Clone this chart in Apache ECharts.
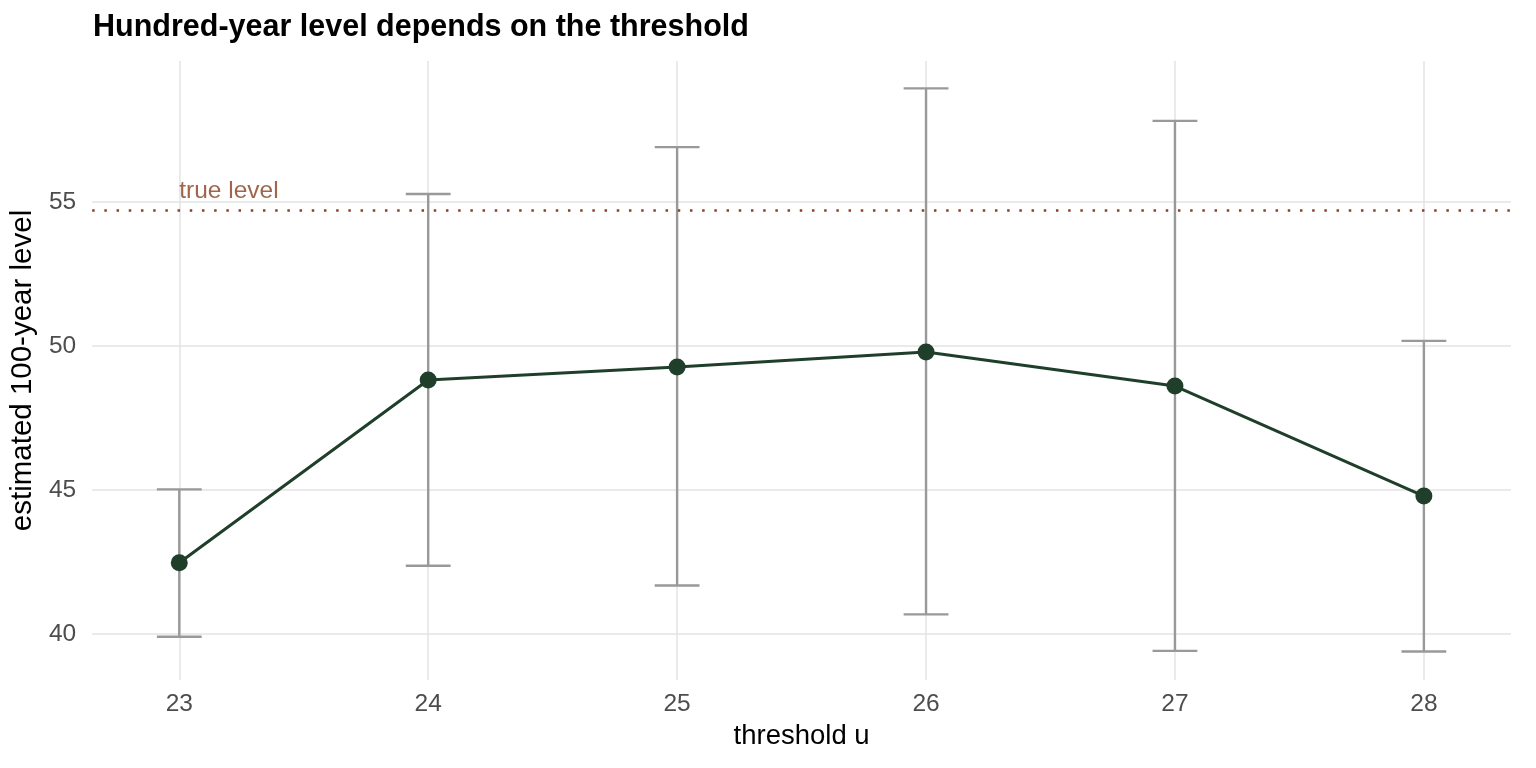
<!DOCTYPE html>
<html>
<head>
<meta charset="utf-8">
<script src="https://cdn.jsdelivr.net/npm/echarts@6/dist/echarts.min.js"></script>
<style>
html,body{margin:0;padding:0;background:#fff;}
#chart{width:1536px;height:768px;}
</style>
</head>
<body>
<div id="chart"></div>
<script>
const thresholds = [23, 24, 25, 26, 27, 28];
const estimates = [42.47, 48.82, 49.27, 49.79, 48.61, 44.79];
const lowerCI = [39.90, 42.37, 41.68, 40.68, 39.41, 39.39];
const upperCI = [45.02, 55.28, 56.91, 58.95, 57.82, 50.18];
const trueLevel = 54.73;
const yTicks = [40, 45, 50, 55];
const xTicks = [23, 24, 25, 26, 27, 28];

const FONT = '"Liberation Sans", Arial, sans-serif';
const chart = echarts.init(document.getElementById('chart'));

const errData = thresholds.map((t, i) => [t, lowerCI[i], upperCI[i]]);
const lineData = thresholds.map((t, i) => [t, estimates[i]]);

chart.setOption({
  animation: false,
  backgroundColor: '#ffffff',
  textStyle: { fontFamily: FONT },
  title: {
    text: 'Hundred-year level depends on the threshold',
    left: 93, top: 12, padding: 0,
    textStyle: { fontFamily: FONT, fontSize: 30.5, fontWeight: 'bold', color: '#000' }
  },
  grid: { left: 92, right: 25, top: 61, bottom: 88, containLabel: false },
  xAxis: {
    type: 'value', min: 22.65, max: 28.35,
    name: 'threshold u', nameLocation: 'middle', nameGap: 42,
    nameTextStyle: { fontFamily: FONT, fontSize: 27.5, color: '#000' },
    axisLine: { show: false }, axisTick: { show: false, customValues: xTicks },
    axisLabel: { customValues: xTicks, fontSize: 24.5, color: '#4d4d4d', margin: 12, fontFamily: FONT },
    splitLine: { show: true, lineStyle: { color: '#e3e3e3', width: 1.5 } }
  },
  yAxis: {
    type: 'value', min: 38.4, max: 59.9,
    name: 'estimated 100-year level', nameLocation: 'middle', nameGap: 47, nameRotate: 90,
    nameTextStyle: { fontFamily: FONT, fontSize: 29.5, color: '#000' },
    axisLine: { show: false }, axisTick: { show: false, customValues: yTicks },
    axisLabel: { customValues: yTicks, fontSize: 24.5, color: '#4d4d4d', margin: 16, fontFamily: FONT },
    splitLine: { show: true, lineStyle: { color: '#e3e3e3', width: 1.5 } }
  },
  series: [
    {
      type: 'custom',
      z: 1,
      data: errData,
      renderItem: function (params, api) {
        const x = api.value(0);
        const lo = api.coord([x, api.value(1)]);
        const hi = api.coord([x, api.value(2)]);
        const left = api.coord([x - 0.09, api.value(1)])[0];
        const right = api.coord([x + 0.09, api.value(1)])[0];
        const style = { stroke: '#999999', lineWidth: 2.4 };
        return {
          type: 'group',
          children: [
            { type: 'line', shape: { x1: lo[0], y1: lo[1], x2: hi[0], y2: hi[1] }, style: style },
            { type: 'line', shape: { x1: left, y1: hi[1], x2: right, y2: hi[1] }, style: style },
            { type: 'line', shape: { x1: left, y1: lo[1], x2: right, y2: lo[1] }, style: style }
          ]
        };
      },
      markLine: {
        silent: true, symbol: 'none',
        lineStyle: { color: '#8B4220', width: 2.5, type: [2.5, 9.7] },
        label: { show: false },
        data: [{ yAxis: trueLevel }]
      }
    },
    {
      type: 'line',
      z: 3,
      data: lineData,
      symbol: 'circle', symbolSize: 17,
      itemStyle: { color: '#1F3F2B' },
      lineStyle: { color: '#1F3F2B', width: 3 }
    },
    {
      type: 'scatter',
      z: 4,
      data: [[thresholds[0], trueLevel]],
      symbolSize: 0,
      label: {
        show: true, formatter: 'true level', position: [0, 0],
        align: 'left', verticalAlign: 'bottom', offset: [0, -6],
        fontSize: 24.5, color: '#87401F', fontFamily: FONT
      }
    }
  ]
});
</script>
</body>
</html>
